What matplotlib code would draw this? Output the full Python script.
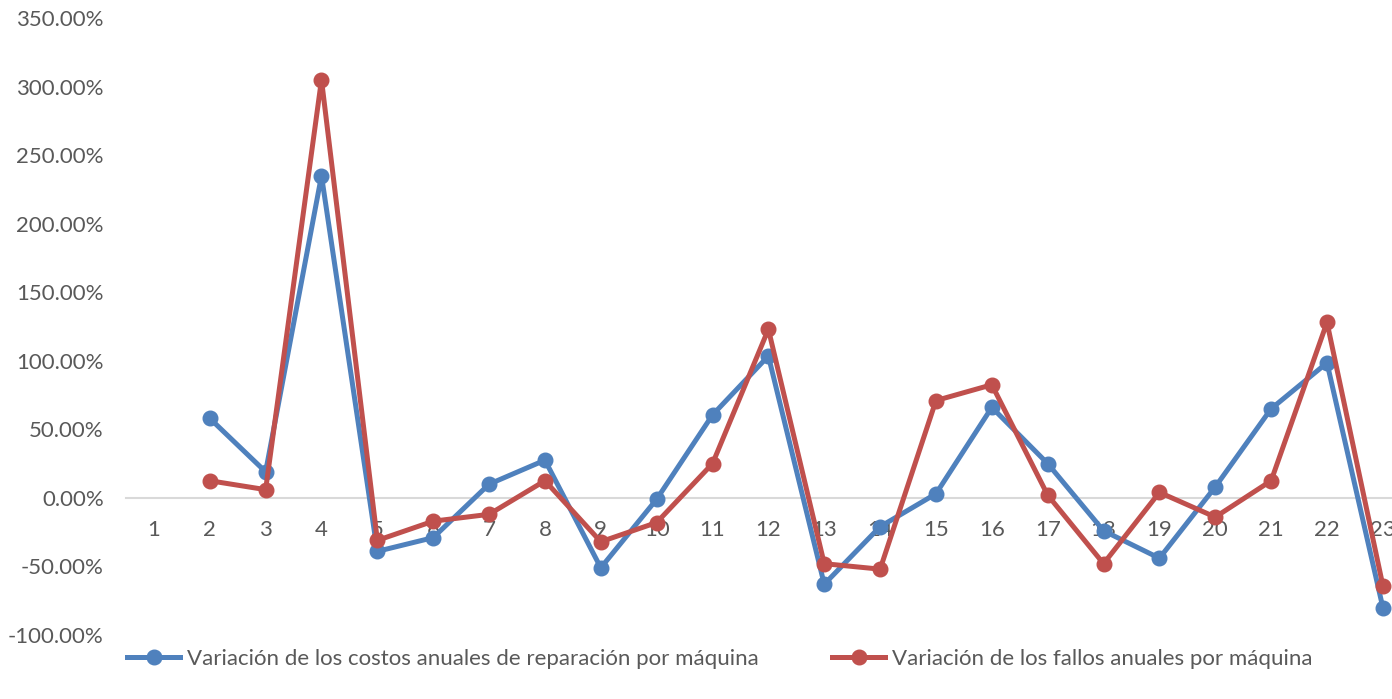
import numpy as np
import matplotlib.pyplot as plt
from matplotlib.ticker import FuncFormatter

plt.rcParams['font.family'] = ['Lato', 'DejaVu Sans']

# Machines 1..23; machine 1 has no previous year, so no variation
maquinas = list(range(1, 24))
var_costos = [np.nan, 58, 19, 235, -39, -29, 10, 27.5, -51, -1, 60.5, 103.5,
              -63, -21, 3, 66, 25, -24, -44, 8, 65, 98.5, -80]
var_fallos = [np.nan, 12.5, 6, 305, -31, -17, -12, 12.5, -32, -18, 25, 123,
              -48, -52, 71, 82.5, 2, -48, 4, -14, 12.5, 128, -64]
nombres = ["Variación de los costos anuales de reparación por máquina",
           "Variación de los fallos anuales por máquina"]

azul = "#4F81BD"
rojo = "#C0504D"
gris = "#595959"

fig = plt.figure(figsize=(13.92, 6.99), dpi=100)
ax = fig.add_axes([0.0905, 0.0916, 0.923, 0.8826])

ax.plot(maquinas, var_costos, color=azul, lw=3.6, marker='o', ms=10.5,
        label=nombres[0], solid_joinstyle='round', clip_on=False, zorder=3)
ax.plot(maquinas, var_fallos, color=rojo, lw=3.6, marker='o', ms=10.5,
        label=nombres[1], solid_joinstyle='round', clip_on=False, zorder=4)

ax.set_xlim(0.5, 23.5)
ax.set_ylim(-100, 350)
ax.set_yticks(np.arange(-100, 351, 50))
ax.yaxis.set_major_formatter(FuncFormatter(lambda v, p: f"{v:.2f}%"))
ax.set_xticks(maquinas)
ax.set_xticklabels([str(m) for m in maquinas])

for s in ['top', 'right', 'left']:
    ax.spines[s].set_visible(False)
ax.spines['bottom'].set_position(('data', 0))
ax.spines['bottom'].set_color('#D9D9D9')
ax.spines['bottom'].set_linewidth(1.5)
ax.spines['bottom'].set_zorder(1)

ax.tick_params(axis='y', length=0, pad=16, labelsize=16, labelcolor=gris)
ax.tick_params(axis='x', length=0, pad=16, labelsize=16, labelcolor=gris)

fig.legend(loc='center', bbox_to_anchor=(0.517, 0.057), ncol=2, frameon=False,
           fontsize=16, labelcolor=gris, handlelength=2.4, handletextpad=0.3,
           columnspacing=3.3)

fig.savefig("out.png", dpi=100)
